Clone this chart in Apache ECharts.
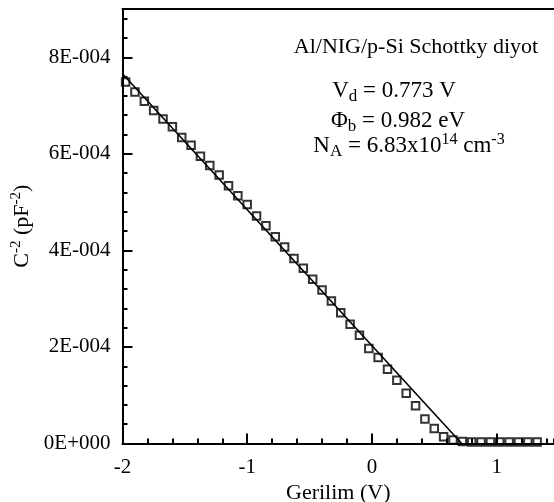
<!DOCTYPE html>
<html>
<head>
<meta charset="utf-8">
<script src="https://cdn.jsdelivr.net/npm/echarts@6/dist/echarts.min.js"></script>
<style>
  html, body { margin: 0; padding: 0; background: #fff; }
  #chart { width: 554px; height: 502px; }
</style>
</head>
<body>
<div id="chart"></div>
<script>
// measured points, C^-2 vs voltage
var gerilim = [-1.975, -1.9, -1.825, -1.75, -1.675, -1.6, -1.525, -1.45, -1.375, -1.3,
  -1.225, -1.15, -1.075, -1.0, -0.925, -0.85, -0.775, -0.7, -0.625, -0.55,
  -0.475, -0.4, -0.325, -0.25, -0.175, -0.1, -0.025, 0.05, 0.125, 0.2,
  0.275, 0.35, 0.425, 0.5, 0.575, 0.65, 0.725, 0.8, 0.875, 0.95,
  1.025, 1.1, 1.175, 1.25, 1.325];
var cInv2 = [7.49e-4, 7.28e-4, 7.09e-4, 6.90e-4, 6.72e-4, 6.56e-4, 6.34e-4, 6.18e-4, 5.95e-4, 5.76e-4,
  5.56e-4, 5.34e-4, 5.13e-4, 4.95e-4, 4.71e-4, 4.51e-4, 4.28e-4, 4.07e-4, 3.83e-4, 3.63e-4,
  3.40e-4, 3.18e-4, 2.95e-4, 2.71e-4, 2.47e-4, 2.24e-4, 1.97e-4, 1.78e-4, 1.54e-4, 1.31e-4,
  1.04e-4, 7.8e-5, 5.1e-5, 3.1e-5, 1.4e-5, 7e-6, 4e-6, 3e-6, 3e-6, 3e-6,
  3e-6, 3e-6, 3e-6, 3e-6, 3e-6];

// linear fit
var fitX = [-2, 0.72];
var fitY = [7.66e-4, 0];

var xTickLabels = ['-2', '-1', '0', '1'];
var yTickLabels = ['0E+000', '2E-004', '4E-004', '6E-004', '8E-004'];

var serif = "'Liberation Serif', 'Times New Roman', serif";
var black = '#000';

var points = [];
for (var i = 0; i < gerilim.length; i++) points.push([gerilim[i], cInv2[i]]);
var fitLine = [];
for (var j = 0; j < fitX.length; j++) fitLine.push([fitX[j], fitY[j]]);

var axisLineStyle = { color: black, width: 2 };
var tickStyle = { color: black, width: 2 };
var labelStyle = { color: black, fontFamily: serif, fontSize: 21 };
var nameStyle = { color: black, fontFamily: serif, fontSize: 22 };

var annRich = {
  a: { fontFamily: serif, fontSize: 23, fill: black, lineHeight: 28 },
  s: { fontFamily: serif, fontSize: 17, fill: black, lineHeight: 17, verticalAlign: 'bottom' },
  u: { fontFamily: serif, fontSize: 16, fill: black, lineHeight: 16, verticalAlign: 'top' }
};

var myChart = echarts.init(document.getElementById('chart'));
var option = {
  animation: false,
  grid: { left: 122.5, right: 0, top: 9, bottom: 58.5, outerBoundsMode: 'none' },
  xAxis: [
    {
      type: 'value', min: -2, max: 1.46, interval: 1, position: 'bottom',
      axisLine: { onZero: false, lineStyle: axisLineStyle },
      axisTick: { inside: true, length: 10, lineStyle: tickStyle },
      axisLabel: Object.assign({
        margin: 13, showMaxLabel: false,
        formatter: function (v) { return xTickLabels[Math.round(v) + 2] || ''; }
      }, labelStyle),
      splitLine: { show: false },
      name: 'Gerilim (V)', nameLocation: 'middle', nameGap: 35,
      nameTextStyle: nameStyle
    },
    {
      // minor ticks
      type: 'value', min: -2, max: 1.46, interval: 0.2, position: 'bottom',
      axisLine: { show: false, onZero: false },
      axisTick: { inside: true, length: 5, lineStyle: tickStyle },
      axisLabel: { show: false },
      splitLine: { show: false }
    },
    {
      // top frame
      type: 'value', min: -2, max: 1.46, position: 'top',
      axisLine: { onZero: false, lineStyle: axisLineStyle },
      axisTick: { show: false },
      axisLabel: { show: false },
      splitLine: { show: false }
    }
  ],
  yAxis: [
    {
      type: 'value', min: 0, max: 9e-4, interval: 2e-4, position: 'left',
      axisLine: { onZero: false, lineStyle: axisLineStyle },
      axisTick: { inside: true, length: 10, lineStyle: tickStyle },
      axisLabel: Object.assign({
        margin: 12, showMaxLabel: false,
        formatter: function (v) { return yTickLabels[Math.round(v / 2e-4)] || ''; }
      }, labelStyle),
      splitLine: { show: false },
      name: '{a|C}{s|-2}{a| (pF}{s|-2}{a|)}',
      nameLocation: 'middle', nameRotate: 90, nameGap: 84,
      nameTextStyle: {
        rich: {
          a: { fontFamily: serif, fontSize: 22, color: black, lineHeight: 26 },
          s: { fontFamily: serif, fontSize: 15, color: black, lineHeight: 15, verticalAlign: 'top' }
        }
      }
    },
    {
      type: 'value', min: 0, max: 9e-4, interval: 4e-5, position: 'left',
      axisLine: { show: false, onZero: false },
      axisTick: { inside: true, length: 5, lineStyle: tickStyle },
      axisLabel: { show: false },
      splitLine: { show: false }
    }
  ],
  series: [
    {
      type: 'scatter',
      data: points,
      symbol: 'rect',
      symbolSize: 7.5,
      itemStyle: { color: 'rgba(0,0,0,0)', borderColor: black, borderWidth: 2 },
      z: 3
    },
    {
      type: 'line',
      data: fitLine,
      showSymbol: false,
      lineStyle: { color: black, width: 1.6 },
      z: 2
    }
  ],
  graphic: [
    {
      type: 'text', x: 416, y: 47,
      style: { text: 'Al/NIG/p-Si Schottky diyot', fontFamily: serif, fontSize: 22, fill: black, align: 'center', verticalAlign: 'middle' }
    },
    {
      type: 'text', x: 394, y: 91,
      style: { text: '{a|V}{s|d}{a| = 0.773 V}', align: 'center', verticalAlign: 'middle', rich: annRich }
    },
    {
      type: 'text', x: 398, y: 121,
      style: { text: '{a|Φ}{s|b}{a| = 0.982 eV}', align: 'center', verticalAlign: 'middle', rich: annRich }
    },
    {
      type: 'text', x: 409, y: 146,
      style: { text: '{a|N}{s|A}{a| = 6.83x10}{u|14}{a| cm}{u|-3}', align: 'center', verticalAlign: 'middle', rich: annRich }
    }
  ]
};
myChart.setOption(option, true);
</script>
</body>
</html>
